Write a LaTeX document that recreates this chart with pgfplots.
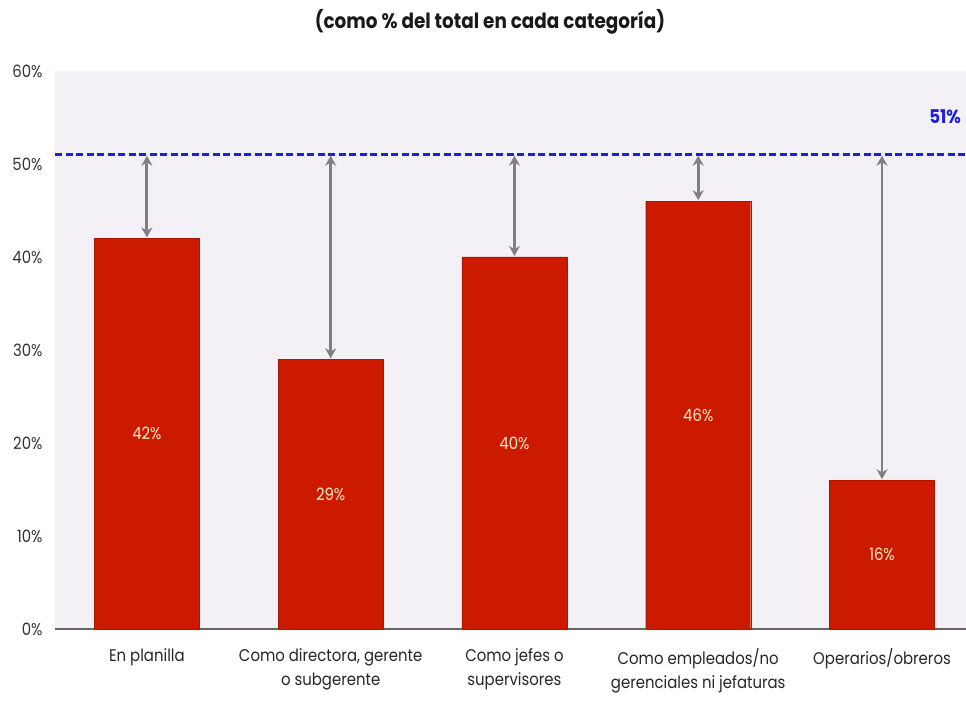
\documentclass[border=0pt]{standalone}
\usepackage{fontspec}
\setmainfont{Poppins}[FakeStretch=0.88]
\usepackage{pgfplots}
\pgfplotsset{compat=1.18}
\usetikzlibrary{arrows.meta}
\definecolor{barred}{RGB}{204,26,0}
\definecolor{bgcol}{RGB}{243,241,245}
\definecolor{lineblue}{RGB}{30,30,225}
\definecolor{arrowgray}{RGB}{128,128,128}
\definecolor{lblyellow}{RGB}{255,238,200}
\begin{document}
\begin{tikzpicture}
\begin{axis}[
  at={(55bp,73bp)}, anchor=south west,
  scale only axis, width=911bp, height=558bp,
  xmin=-0.5, xmax=4.457, ymin=0, ymax=60,
  axis background/.style={fill=bgcol},
  separate axis lines,
  axis x line*=bottom, axis y line*=left,
  x axis line style={draw=black!60, line width=1.2pt, -},
  y axis line style={draw=none},
  major tick length=0pt,
  xtick={0,1,2,3,4},
  xticklabels={En planilla,{Como directora, gerente\\o subgerente},{Como jefes o\\supervisores},{Como empleados/no\\gerenciales ni jefaturas},Operarios/obreros},
  xticklabel style={align=center, font=\fontsize{17}{24}\selectfont, text=black!85, yshift=-16bp},
  ytick={0,10,20,30,40,50,60},
  yticklabels={0\%,10\%,20\%,30\%,40\%,50\%,60\%},
  yticklabel style={font=\fontsize{17}{18}\selectfont, text=black!80, xshift=-9bp},
  title={(como \% del total en cada categoría)},
  title style={at={(0.4775,1)}, anchor=center, yshift=43bp, font=\bfseries\fontsize{21}{24}\selectfont, text=black!90},
  clip=false,
]
\addplot[ybar, bar width=105bp, fill=barred, draw=barred!85!black] coordinates {(0,42) (1,29) (2,40) (3,46) (4,16)};
\addplot[draw=none, mark=none, nodes near coords, point meta=explicit symbolic,
  nodes near coords style={anchor=center, text=lblyellow, font=\fontsize{17}{18}\selectfont}]
  coordinates {(0,21)[42\%] (1,14.5)[29\%] (2,20)[40\%] (3,23)[46\%] (4,8)[16\%]};
\addplot[lineblue, line width=3pt, dash pattern=on 7bp off 3.5bp] coordinates {(-0.5,51) (4.457,51)};
\foreach \x/\y in {0/42,1/29,2/40,3/46,4/16}{
  \edef\temp{\noexpand\addplot[arrowgray, line width=2.8pt, {Stealth[length=10bp,width=11bp]}-{Stealth[length=10bp,width=11bp]}, shorten <=1bp, shorten >=1bp] coordinates {(\x,51) (\x,\y)};}
  \temp
}
\node[text=lineblue, font=\bfseries\fontsize{19}{20}\selectfont] at (axis cs:4.343,55.1) {51\%};
\end{axis}
\pgfresetboundingbox
\path[use as bounding box] (0,0) rectangle (966bp,702bp);
\end{tikzpicture}
\end{document}
